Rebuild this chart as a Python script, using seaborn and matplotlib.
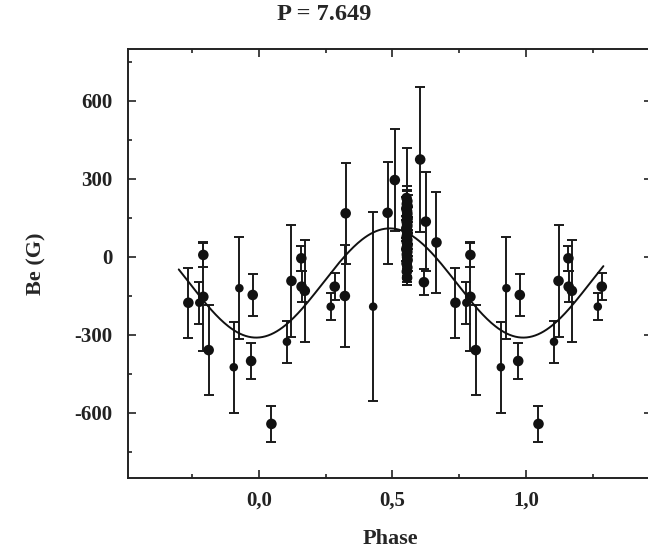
import numpy as np
import pandas as pd
import matplotlib
matplotlib.use("Agg")
import matplotlib.pyplot as plt
from matplotlib.ticker import MultipleLocator, FixedLocator, FixedFormatter
import seaborn as sns

# phase (0..1), longitudinal field Be (G) and 1-sigma errors
phase_big = [0.736, 0.792, 0.792, 0.812, 0.977, 0.971, 0.047, 0.122, 0.159,
             0.160, 0.172, 0.284, 0.325, 0.322, 0.482, 0.509, 0.604, 0.625,
             0.618, 0.665]
be_big = [-176, 8, -153, -358, -146, -400, -642, -92, -5,
          -114, -130, -114, 168, -150, 170, 296, 375, 136,
          -97, 56]
err_big = [135, 45, 210, 174, 79, 69, 70, 215, 48,
           60, 195, 51, 195, 195, 195, 195, 277, 190,
           49, 195]

phase_small = [0.777, 0.906, 0.927, 0.105, 0.269, 0.428]
be_small = [-176, -424, -120, -326, -191, -191]
err_small = [80, 175, 197, 80, 51, 363]

# densely sampled night near phase 0.555
phase_run = [0.553, 0.556, 0.554, 0.557, 0.552, 0.555, 0.556, 0.554, 0.557, 0.553,
             0.555, 0.556, 0.552, 0.554, 0.557, 0.555, 0.553, 0.556, 0.554, 0.557,
             0.555, 0.552, 0.556, 0.554, 0.555, 0.557, 0.553, 0.556, 0.554, 0.555]
be_run = [227, 215, 204, 195, 186, 176, 166, 156, 147, 138,
          128, 119, 110, 101, 92, 84, 75, 66, 57, 48,
          39, 30, 20, 10, 0, -12, -25, -40, -56, -80]
err_run = [46, 44, 48, 42, 45, 47, 43, 264, 45, 44,
           46, 42, 48, 45, 43, 47, 44, 46, 42, 45,
           48, 44, 46, 43, 45, 42, 47, 44, 40, 28]

# sinusoidal fit
fit_mean, fit_amp, fit_phase0 = -100, 210, 0.49
PERIOD = "7.649"


def repeat_phases(ph, be, err):
    """Plot each phase once, plus a copy shifted by one cycle at the edges."""
    rows = []
    for p, b, e in zip(ph, be, err):
        rows.append((p, b, e))
        if p > 0.7:
            rows.append((p - 1, b, e))
        if p < 0.3:
            rows.append((p + 1, b, e))
    return pd.DataFrame(rows, columns=["phase", "be", "err"])


sns.set_style("ticks")
plt.rcParams["font.family"] = ["Liberation Serif", "DejaVu Serif"]
plt.rcParams["font.weight"] = "bold"
plt.rcParams["axes.unicode_minus"] = False

fig = plt.figure(figsize=(6.48, 5.49), dpi=100)
ax = fig.add_axes([128 / 648, 1 - 478 / 549, 524 / 648, 429 / 549])

big = repeat_phases(phase_big, be_big, err_big)
small = repeat_phases(phase_small, be_small, err_small)
run = repeat_phases(phase_run, be_run, err_run)

for df in (big, small, run):
    ax.errorbar(df["phase"], df["be"], yerr=df["err"], fmt="none",
                ecolor="#1a1a1a", elinewidth=1.4, capsize=3.8, capthick=1.4)

sns.scatterplot(data=pd.concat([big, run]), x="phase", y="be", ax=ax,
                color="#111111", s=58, edgecolor="none", zorder=3)
sns.scatterplot(data=small, x="phase", y="be", ax=ax,
                color="#111111", s=38, edgecolor="none", zorder=3)

curve_x = np.linspace(-0.3, 1.29, 300)
curve_y = fit_mean + fit_amp * np.cos(2 * np.pi * (curve_x - fit_phase0))
sns.lineplot(x=curve_x, y=curve_y, ax=ax, color="#111111", linewidth=1.4,
             sort=False)

ax.set_xlim(-0.49, 1.472)
ax.set_ylim(-850, 800)

ax.xaxis.set_major_locator(FixedLocator([0.0, 0.5, 1.0]))
ax.xaxis.set_major_formatter(FixedFormatter(["0,0", "0,5", "1,0"]))
ax.xaxis.set_minor_locator(FixedLocator([-0.25, 0.25, 0.75, 1.25]))
ax.yaxis.set_major_locator(MultipleLocator(300))
ax.yaxis.set_minor_locator(MultipleLocator(150))

ax.tick_params(which="both", direction="in", top=True, right=True,
               width=1.2, colors="#222222")
ax.tick_params(which="major", length=6)
ax.tick_params(which="minor", length=3)
ax.tick_params(axis="y", pad=11, labelsize=15)
ax.tick_params(axis="x", pad=9, labelsize=15)
for lab in ax.get_xticklabels() + ax.get_yticklabels():
    lab.set_fontweight("bold")
for sp in ax.spines.values():
    sp.set_linewidth(1.4)
    sp.set_color("#222222")

ax.set_xlabel("Phase", fontsize=16, fontweight="bold", labelpad=13)
ax.set_ylabel("Be (G)", fontsize=16, fontweight="bold", labelpad=20)
fig.text(0.5, 1 - 15 / 549, "P = " + PERIOD, ha="center", va="center",
         fontsize=17.5, fontweight="bold")

fig.savefig("out.png", dpi=100, facecolor="white")
